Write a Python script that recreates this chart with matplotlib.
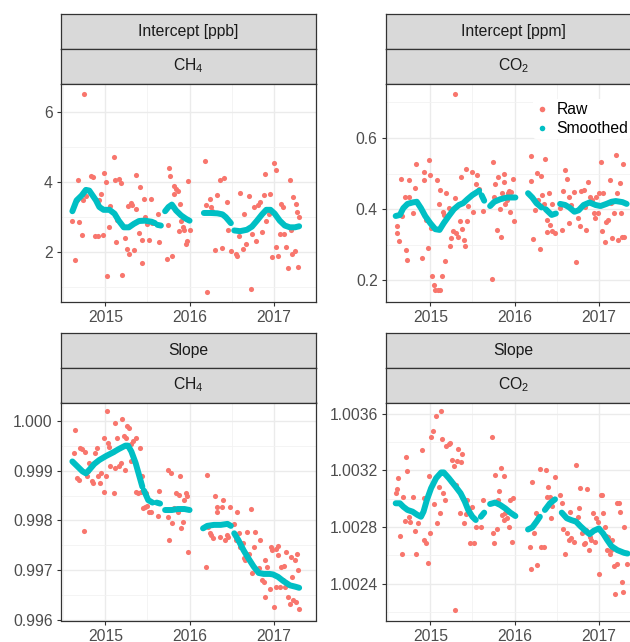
import numpy as np
import matplotlib
matplotlib.use("Agg")
import matplotlib.pyplot as plt
from matplotlib.lines import Line2D

plt.rcParams['font.family'] = ['Liberation Sans', 'DejaVu Sans']
plt.rcParams['mathtext.fontset'] = 'custom'
plt.rcParams['mathtext.rm'] = 'Liberation Sans'
plt.rcParams['mathtext.it'] = 'Liberation Sans:italic'
plt.rcParams['mathtext.default'] = 'regular'

nan = np.nan

# ---- Intercept CH4 [ppb] ----
ch4_int_x = [2014.61, 2014.64, 2014.66, 2014.68, 2014.69, 2014.72, 2014.74, 2014.75, 2014.77, 2014.83,
             2014.85, 2014.88, 2014.91, 2014.93, 2014.95, 2014.97, 2014.99, 2015.01, 2015.02, 2015.04,
             2015.06, 2015.10, 2015.12, 2015.13, 2015.14, 2015.16, 2015.19, 2015.20, 2015.23, 2015.26,
             2015.27, 2015.28, 2015.30, 2015.32, 2015.34, 2015.36, 2015.37, 2015.40, 2015.41, 2015.44,
             2015.44, 2015.46, 2015.47, 2015.50, 2015.52, 2015.54, 2015.56, 2015.62, 2015.64,
             2015.73, 2015.75, 2015.76, 2015.77, 2015.79, 2015.80, 2015.81, 2015.82, 2015.84, 2015.86,
             2015.87, 2015.89, 2015.90, 2015.92, 2015.94, 2015.96, 2015.97, 2015.98, 2016.00,
             2016.18, 2016.20, 2016.21, 2016.24, 2016.25, 2016.27, 2016.30, 2016.32, 2016.36, 2016.38,
             2016.41, 2016.45, 2016.46, 2016.49,
             2016.55, 2016.56, 2016.59, 2016.60, 2016.63, 2016.64, 2016.67, 2016.71, 2016.73, 2016.74,
             2016.77, 2016.79, 2016.81, 2016.84, 2016.86, 2016.88, 2016.90, 2016.91, 2016.94, 2016.96,
             2016.98, 2017.00, 2017.02, 2017.03, 2017.05, 2017.07, 2017.09, 2017.11, 2017.12, 2017.15,
             2017.17, 2017.19, 2017.20, 2017.22, 2017.23, 2017.25, 2017.26, 2017.28, 2017.29, 2017.30]
ch4_int_y = [2.90, 1.78, 3.48, 4.05, 2.86, 2.50, 3.50, 6.52, 3.60, 4.17,
             4.14, 2.47, 2.47, 3.48, 3.67, 2.48, 4.27, 4.00, 1.31, 2.71,
             3.32, 4.73, 4.05, 2.30, 2.93, 4.10, 3.98, 1.36, 2.41, 2.09,
             3.33, 1.95, 3.40, 3.36, 2.07, 3.24, 4.20, 2.56, 3.86, 1.69,
             2.35, 3.52, 3.00, 2.81, 2.35, 3.53, 2.83, 3.10, 2.29,
             1.80, 2.79, 4.41, 4.17, 1.90, 3.29, 3.67, 3.90, 3.81, 3.76,
             2.60, 3.38, 2.90, 2.71, 2.62, 2.24, 2.33, 4.03, 2.62,
             4.60, 3.36, 0.86, 3.52, 3.29, 3.17, 2.07, 3.62, 4.05, 2.12,
             4.12, 3.42, 2.62, 2.03,
             1.95, 1.88, 2.47, 3.70, 2.09, 3.10, 2.24, 3.60, 0.94, 2.52,
             3.29, 2.31, 3.36, 3.44, 2.57, 3.62, 4.22, 2.90, 3.10, 3.67,
             1.86, 4.54, 2.14, 4.35, 1.88, 2.52, 3.38, 3.30, 2.52, 2.14,
             1.55, 4.05, 2.62, 1.95, 3.57, 2.03, 3.38, 3.14, 1.59, 3.00]
ch4_int_sx = [2014.61, 2014.66, 2014.72, 2014.77, 2014.81, 2014.85, 2014.89, 2014.93, 2014.98, 2015.05,
              2015.11, 2015.16, 2015.22, 2015.28, 2015.34, 2015.40, 2015.47, 2015.55, 2015.59, nan,
              2015.62, 2015.66, nan,
              2015.71, 2015.75, 2015.79, 2015.84, 2015.90, 2015.96, 2016.00, nan,
              2016.17, 2016.25, 2016.33, 2016.39, 2016.43, 2016.49, nan,
              2016.53, 2016.60, 2016.68, 2016.74, 2016.80, 2016.86, 2016.91, 2016.96, 2017.01, 2017.07,
              2017.13, 2017.19, 2017.25, 2017.30]
ch4_int_sy = [3.17, 3.48, 3.62, 3.78, 3.76, 3.62, 3.48, 3.29, 3.21, 3.21,
              3.10, 2.90, 2.71, 2.71, 2.81, 2.89, 2.90, 2.87, 2.83, nan,
              2.78, 2.76, nan,
              3.17, 3.29, 3.36, 3.19, 3.05, 2.95, 2.90, nan,
              3.12, 3.12, 3.11, 3.08, 3.00, 2.83, nan,
              2.62, 2.60, 2.64, 2.73, 2.90, 3.08, 3.21, 3.21, 3.10, 2.90,
              2.76, 2.71, 2.71, 2.74]

# ---- Intercept CO2 [ppm] ----
co2_int_x = [2014.60, 2014.61, 2014.63, 2014.65, 2014.67, 2014.70, 2014.71, 2014.72, 2014.75, 2014.75,
             2014.79, 2014.82, 2014.83, 2014.90, 2014.93, 2014.93, 2014.95, 2014.97, 2014.98, 2015.00,
             2015.01, 2015.02, 2015.04, 2015.06, 2015.08, 2015.09, 2015.10, 2015.11, 2015.11, 2015.14,
             2015.15, 2015.16, 2015.18, 2015.19, 2015.22, 2015.24, 2015.25, 2015.27, 2015.29, 2015.29,
             2015.31, 2015.33, 2015.35, 2015.36, 2015.38, 2015.40, 2015.41, 2015.42, 2015.44, 2015.45,
             2015.50, 2015.51, 2015.54, 2015.56, 2015.58, 2015.62,
             2015.73, 2015.75, 2015.76, 2015.77, 2015.79, 2015.80, 2015.83, 2015.84, 2015.85, 2015.87,
             2015.87, 2015.89, 2015.91, 2015.92, 2015.93, 2015.95, 2015.96, 2015.98, 2015.99,
             2016.19, 2016.20, 2016.22, 2016.24, 2016.27, 2016.28, 2016.30, 2016.31, 2016.33, 2016.35,
             2016.36, 2016.38, 2016.39, 2016.41, 2016.42, 2016.44, 2016.45, 2016.48,
             2016.54, 2016.56, 2016.58, 2016.60, 2016.62, 2016.64, 2016.65, 2016.67, 2016.71, 2016.73,
             2016.75, 2016.78, 2016.79, 2016.82, 2016.83, 2016.85, 2016.87, 2016.89, 2016.92, 2016.94,
             2016.96, 2016.97, 2016.99, 2017.00, 2017.02, 2017.04, 2017.05, 2017.07, 2017.08, 2017.11,
             2017.13, 2017.15, 2017.16, 2017.18, 2017.20, 2017.22, 2017.23, 2017.25, 2017.26, 2017.28,
             2017.29, 2017.30]
co2_int_y = [0.333, 0.352, 0.311, 0.484, 0.380, 0.433, 0.285, 0.257, 0.482, 0.433,
             0.389, 0.459, 0.528, 0.264, 0.482, 0.505, 0.370, 0.291, 0.538, 0.495,
             0.347, 0.212, 0.186, 0.173, 0.482, 0.173, 0.415, 0.454, 0.173, 0.212,
             0.393, 0.384, 0.254, 0.447, 0.403, 0.298, 0.319, 0.340, 0.431, 0.724,
             0.333, 0.322, 0.366, 0.491, 0.344, 0.313, 0.296, 0.514, 0.368, 0.409,
             0.505, 0.393, 0.470, 0.496, 0.457, 0.395,
             0.205, 0.533, 0.433, 0.470, 0.342, 0.491, 0.400, 0.322, 0.445, 0.498,
             0.477, 0.415, 0.426, 0.447, 0.452, 0.393, 0.448, 0.484, 0.368,
             0.549, 0.479, 0.316, 0.397, 0.503, 0.426, 0.288, 0.493, 0.440, 0.415,
             0.542, 0.335, 0.370, 0.445, 0.356, 0.338, 0.415, 0.333,
             0.404, 0.342, 0.452, 0.510, 0.484, 0.361, 0.433, 0.413, 0.449, 0.251,
             0.375, 0.352, 0.452, 0.454, 0.407, 0.342, 0.477, 0.435, 0.426, 0.389,
             0.375, 0.435, 0.389, 0.445, 0.532, 0.338, 0.445, 0.309, 0.365, 0.370,
             0.482, 0.417, 0.319, 0.389, 0.552, 0.445, 0.314, 0.474, 0.389, 0.322,
             0.528, 0.322]
co2_int_sx = [2014.59, 2014.64, 2014.68, 2014.73, 2014.79, 2014.84, 2014.89, 2014.94, 2015.00, 2015.06,
              2015.11, 2015.16, 2015.22, 2015.28, 2015.34, 2015.39, 2015.44, 2015.50, 2015.56, 2015.58, nan,
              2015.61, 2015.64, nan,
              2015.71, 2015.76, 2015.83, 2015.91, 2015.97, 2016.01, nan,
              2016.16, 2016.21, 2016.26, 2016.32, nan,
              2016.37, 2016.44, 2016.49, nan,
              2016.54, 2016.60, 2016.65, 2016.71, 2016.76, 2016.82, 2016.89, 2016.96, 2017.02, 2017.09,
              2017.15, 2017.20, 2017.28, 2017.33]
co2_int_sy = [0.381, 0.384, 0.403, 0.415, 0.419, 0.421, 0.403, 0.381, 0.361, 0.344,
              0.342, 0.361, 0.381, 0.400, 0.412, 0.417, 0.428, 0.440, 0.449, 0.452, nan,
              0.439, 0.424, nan,
              0.409, 0.421, 0.428, 0.433, 0.433, 0.433, nan,
              0.445, 0.433, 0.417, 0.405, nan,
              0.400, 0.384, 0.388, nan,
              0.415, 0.412, 0.405, 0.393, 0.397, 0.412, 0.419, 0.412, 0.409, 0.415,
              0.421, 0.423, 0.420, 0.415]

# ---- Slope CH4 ----
ch4_slp_x = [2014.63, 2014.64, 2014.67, 2014.69, 2014.70, 2014.73, 2014.75, 2014.76, 2014.78, 2014.80,
             2014.81, 2014.84, 2014.85, 2014.88, 2014.90, 2014.91, 2014.94, 2014.95, 2014.98, 2014.99,
             2015.01, 2015.02, 2015.03, 2015.05, 2015.06, 2015.09, 2015.10, 2015.12, 2015.12, 2015.14,
             2015.16, 2015.19, 2015.20, 2015.22, 2015.23, 2015.25, 2015.26, 2015.28, 2015.30, 2015.31,
             2015.33, 2015.36, 2015.37, 2015.39, 2015.41, 2015.42, 2015.44, 2015.45, 2015.47, 2015.48,
             2015.50, 2015.52, 2015.54, 2015.62, 2015.64,
             2015.74, 2015.75, 2015.76, 2015.78, 2015.79, 2015.82, 2015.84, 2015.86, 2015.87, 2015.89,
             2015.90, 2015.92, 2015.93, 2015.96, 2015.97, 2015.98,
             2016.20, 2016.21, 2016.22, 2016.24, 2016.25, 2016.28, 2016.30, 2016.32, 2016.33, 2016.36,
             2016.38, 2016.40, 2016.42, 2016.44, 2016.46, 2016.48,
             2016.53, 2016.55, 2016.56, 2016.59, 2016.60, 2016.63, 2016.64, 2016.66, 2016.68, 2016.71,
             2016.73, 2016.74, 2016.77, 2016.78, 2016.81, 2016.82, 2016.84, 2016.86, 2016.88, 2016.89,
             2016.90, 2016.92, 2016.95, 2016.97, 2016.98, 2017.00, 2017.02, 2017.03, 2017.05, 2017.05,
             2017.07, 2017.09, 2017.11, 2017.12, 2017.13, 2017.15, 2017.17, 2017.19, 2017.20, 2017.22,
             2017.23, 2017.25, 2017.26, 2017.27, 2017.29, 2017.30]
ch4_slp_y = [0.99936, 0.99983, 0.99885, 0.99882, 0.99946, 0.99944, 0.99779, 0.99939, 0.99889, 0.99899,
             0.99916, 0.99880, 0.99876, 0.99936, 0.99946, 0.99889, 0.99876, 0.99895, 0.99966, 0.99858,
             0.99889, 1.00020, 0.99956, 0.99948, 0.99909, 0.99939, 0.99856, 0.99905, 0.99997, 0.99966,
             0.99909, 0.99916, 1.00005, 0.99970, 0.99902, 0.99966, 0.99990, 0.99986, 0.99919, 0.99955,
             0.99961, 0.99966, 0.99857, 0.99856, 0.99946, 0.99858, 0.99890, 0.99825, 0.99828, 0.99855,
             0.99830, 0.99818, 0.99816, 0.99809, 0.99859,
             0.99901, 0.99806, 0.99760, 0.99895, 0.99795, 0.99826, 0.99856, 0.99818, 0.99851, 0.99889,
             0.99784, 0.99797, 0.99841, 0.99856, 0.99849, 0.99736,
             0.99705, 0.99892, 0.99787, 0.99774, 0.99770, 0.99764, 0.99849, 0.99828, 0.99818, 0.99767,
             0.99828, 0.99841, 0.99760, 0.99770, 0.99767, 0.99828,
             0.99793, 0.99760, 0.99816, 0.99774, 0.99747, 0.99755, 0.99725, 0.99720, 0.99777, 0.99733,
             0.99824, 0.99693, 0.99747, 0.99777, 0.99701, 0.99703, 0.99761, 0.99679, 0.99676, 0.99720,
             0.99645, 0.99706, 0.99662, 0.99747, 0.99740, 0.99625, 0.99666, 0.99743, 0.99730, 0.99748,
             0.99666, 0.99706, 0.99679, 0.99709, 0.99666, 0.99736, 0.99645, 0.99632, 0.99726, 0.99686,
             0.99639, 0.99720, 0.99635, 0.99733, 0.99699, 0.99622]
ch4_slp_sx = [2014.61, 2014.67, 2014.73, 2014.77, 2014.81, 2014.87, 2014.93, 2015.01, 2015.09, 2015.16,
              2015.24, 2015.27, 2015.31, 2015.36, 2015.40, 2015.44, nan,
              2015.46, 2015.51, 2015.56, nan,
              2015.61, 2015.65, nan,
              2015.71, 2015.79, 2015.86, 2015.94, 2016.00, nan,
              2016.16, 2016.21, 2016.29, 2016.37, 2016.45, 2016.49, nan,
              2016.53, 2016.58, 2016.64, 2016.70, 2016.76, 2016.82, 2016.88, 2016.95, 2016.99, 2017.05,
              2017.11, 2017.19, 2017.26, 2017.30]
ch4_slp_sy = [0.99919, 0.99909, 0.99899, 0.99895, 0.99902, 0.99914, 0.99922, 0.99930, 0.99937, 0.99944,
              0.99951, 0.99951, 0.99939, 0.99916, 0.99892, 0.99868, nan,
              0.99860, 0.99841, 0.99836, nan,
              0.99836, 0.99834, nan,
              0.99821, 0.99821, 0.99823, 0.99823, 0.99821, nan,
              0.99784, 0.99789, 0.99791, 0.99791, 0.99793, 0.99789, nan,
              0.99774, 0.99760, 0.99740, 0.99723, 0.99707, 0.99694, 0.99692, 0.99692, 0.99691, 0.99686,
              0.99678, 0.99669, 0.99666, 0.99664]

# ---- Slope CO2 ----
co2_slp_x = [2014.59, 2014.60, 2014.62, 2014.64, 2014.67, 2014.68, 2014.70, 2014.71, 2014.72, 2014.75,
             2014.76, 2014.79, 2014.82, 2014.83, 2014.86, 2014.90, 2014.92, 2014.93, 2014.95, 2014.97,
             2014.98, 2015.00, 2015.01, 2015.03, 2015.05, 2015.07, 2015.08, 2015.10, 2015.11, 2015.13,
             2015.14, 2015.15, 2015.18, 2015.19, 2015.22, 2015.24, 2015.25, 2015.26, 2015.28, 2015.29,
             2015.30, 2015.32, 2015.33, 2015.35, 2015.36, 2015.38, 2015.40, 2015.42, 2015.44, 2015.46,
             2015.47, 2015.50, 2015.52, 2015.54, 2015.60, 2015.62,
             2015.73, 2015.74, 2015.76, 2015.77, 2015.79, 2015.80, 2015.82, 2015.84, 2015.85, 2015.87,
             2015.88, 2015.89, 2015.91, 2015.93, 2015.95, 2015.97, 2015.98,
             2016.18, 2016.20, 2016.21, 2016.23, 2016.25, 2016.27, 2016.28, 2016.30, 2016.31, 2016.35,
             2016.37, 2016.38, 2016.40, 2016.42, 2016.43, 2016.45, 2016.48,
             2016.54, 2016.56, 2016.57, 2016.60, 2016.62, 2016.64, 2016.66, 2016.67, 2016.70, 2016.71,
             2016.73, 2016.75, 2016.77, 2016.78, 2016.80, 2016.82, 2016.83, 2016.85, 2016.86, 2016.88,
             2016.89, 2016.91, 2016.93, 2016.96, 2016.97, 2016.99, 2017.00, 2017.02, 2017.04, 2017.05,
             2017.07, 2017.08, 2017.10, 2017.11, 2017.13, 2017.15, 2017.16, 2017.18, 2017.19, 2017.21,
             2017.22, 2017.24, 2017.25, 2017.27, 2017.29, 2017.30, 2017.33]
co2_slp_y = [1.003044, 1.003067, 1.003146, 1.002736, 1.002613, 1.003011, 1.002845, 1.003295, 1.003193, 1.002869,
             1.002838, 1.003015, 1.002774, 1.002613, 1.002826, 1.003347, 1.003004, 1.002708, 1.002684, 1.002547,
             1.003162, 1.002755, 1.003437, 1.003477, 1.002963, 1.003588, 1.002831, 1.003086, 1.002902, 1.003619,
             1.003422, 1.003039, 1.002992, 1.003375, 1.003389, 1.003394, 1.003122, 1.003271, 1.003233, 1.002211,
             1.003098, 1.003264, 1.003351, 1.002897, 1.003257, 1.003318, 1.002826, 1.002892, 1.002992, 1.002925,
             1.002684, 1.002944, 1.002684, 1.002798, 1.002802, 1.002992,
             1.003437, 1.002755, 1.002689, 1.003169, 1.002783, 1.002992, 1.003058, 1.003217, 1.002885, 1.002850,
             1.003162, 1.002897, 1.002862, 1.002802, 1.002992, 1.002696, 1.003004,
             1.002660, 1.002506, 1.003115, 1.002755, 1.002897, 1.002530, 1.002873, 1.003209, 1.002660, 1.002660,
             1.003205, 1.003015, 1.003082, 1.003015, 1.002862, 1.002949, 1.003153,
             1.003027, 1.002973, 1.002783, 1.002613, 1.002755, 1.002708, 1.002909, 1.002720, 1.002850, 1.002696,
             1.003240, 1.002873, 1.002932, 1.003074, 1.002755, 1.002679, 1.002684, 1.002779, 1.003067, 1.002637,
             1.002731, 1.002708, 1.002902, 1.002696, 1.002862, 1.002838, 1.002466, 1.003027, 1.003027, 1.002902,
             1.002802, 1.002736, 1.002641, 1.002731, 1.002613, 1.002637, 1.002708, 1.002523, 1.002329, 1.002973,
             1.002542, 1.002973, 1.002909, 1.002412, 1.002341, 1.002802, 1.002542]
co2_slp_sx = [2014.59, 2014.64, 2014.68, 2014.73, 2014.79, 2014.85, 2014.89, 2014.92, 2014.96, 2015.01,
              2015.07, 2015.13, 2015.16, 2015.22, 2015.30, 2015.36, 2015.41, 2015.45, 2015.50, 2015.54, nan,
              2015.60, 2015.64, nan,
              2015.71, 2015.77, 2015.83, 2015.89, 2015.95, 2016.01, nan,
              2016.16, 2016.21, 2016.26, 2016.30, nan,
              2016.36, 2016.42, 2016.48, nan,
              2016.56, 2016.62, 2016.67, 2016.73, 2016.78, 2016.84, 2016.89, 2016.94, 2017.00, 2017.05,
              2017.10, 2017.15, 2017.22, 2017.30, 2017.34]
co2_slp_sy = [1.002968, 1.002968, 1.002944, 1.002921, 1.002909, 1.002885, 1.002873, 1.002909, 1.002992, 1.003075,
              1.003146, 1.003186, 1.003186, 1.003146, 1.003086, 1.003039, 1.002980, 1.002921, 1.002873, 1.002850, nan,
              1.002873, 1.002902, nan,
              1.002963, 1.002973, 1.002956, 1.002932, 1.002902, 1.002878, nan,
              1.002783, 1.002798, 1.002838, 1.002873, nan,
              1.002921, 1.002968, 1.002996, nan,
              1.002902, 1.002862, 1.002850, 1.002838, 1.002807, 1.002774, 1.002750, 1.002774, 1.002790, 1.002755,
              1.002708, 1.002665, 1.002637, 1.002618, 1.002613]

year_ticks = [2015, 2016, 2017]
year_minor = [2014.5, 2015.5, 2016.5, 2017.5]
x_limits = (2014.475, 2017.455)

RAW_COL = '#F8766D'
SMOOTH_COL = '#00BFC4'
BORDER = '#333333'
FS = 11.3

fig = plt.figure(figsize=(6.30, 6.42), dpi=100)
W, H = 630.0, 642.0


def px_box(x0, y0, x1, y1):
    # pixel box (top-left origin) -> figure fraction rect
    return [x0 / W, 1 - y1 / H, (x1 - x0) / W, (y1 - y0) / H]


def add_strip(x0, y0, x1, y1, label):
    s = fig.add_axes(px_box(x0, y0, x1, y1))
    s.set_facecolor('#D9D9D9')
    s.set_xticks([])
    s.set_yticks([])
    for sp in s.spines.values():
        sp.set_color(BORDER)
        sp.set_linewidth(0.9)
    s.text(0.5, 0.5, label, transform=s.transAxes,
           ha='center', va='center', fontsize=FS, color='#1A1A1A')
    return s


def draw_panel(x0, y0, title, gas, rx, ry, sx, sy, ylim, yticks, yminor, fmt):
    add_strip(x0, y0, x0 + 255, y0 + 34.5, title)
    add_strip(x0, y0 + 34.5, x0 + 255, y0 + 69.5, gas)
    ax = fig.add_axes(px_box(x0, y0 + 69.5, x0 + 255, y0 + 287.5))
    ax.set_facecolor('white')
    ax.set_xlim(*x_limits)
    ax.set_ylim(*ylim)
    ax.set_xticks(year_ticks)
    ax.set_xticklabels([str(t) for t in year_ticks])
    ax.set_xticks(year_minor, minor=True)
    ax.set_yticks(yticks)
    ax.set_yticklabels([fmt.format(t) for t in yticks])
    ax.set_yticks(yminor, minor=True)
    ax.grid(which='major', color='#EBEBEB', linewidth=1.0)
    ax.grid(which='minor', color='#F2F2F2', linewidth=0.6)
    ax.set_axisbelow(True)
    ax.tick_params(which='major', length=3, width=0.8, color=BORDER,
                   labelcolor='#4D4D4D', labelsize=FS)
    ax.tick_params(axis='x', which='major', pad=3)
    ax.tick_params(axis='y', which='major', pad=3)
    ax.tick_params(which='minor', length=0)
    for sp in ax.spines.values():
        sp.set_color(BORDER)
        sp.set_linewidth(0.9)
    ax.plot(rx, ry, 'o', color=RAW_COL, markersize=3.7, markeredgewidth=0, zorder=3)
    ax.plot(sx, sy, '-', color=SMOOTH_COL, linewidth=4.3, solid_capstyle='round', zorder=4)
    return ax


draw_panel(61, 14, 'Intercept [ppb]', 'CH$_4$', ch4_int_x, ch4_int_y, ch4_int_sx, ch4_int_sy,
           (0.59, 6.82), [2, 4, 6], [1, 3, 5], '{:.0f}')
draw_panel(386, 14, 'Intercept [ppm]', 'CO$_2$', co2_int_x, co2_int_y, co2_int_sx, co2_int_sy,
           (0.141, 0.753), [0.2, 0.4, 0.6], [0.3, 0.5, 0.7], '{:.1f}')
draw_panel(61, 333, 'Slope', 'CH$_4$', ch4_slp_x, ch4_slp_y, ch4_slp_sx, ch4_slp_sy,
           (0.99598, 1.00038), [0.996, 0.997, 0.998, 0.999, 1.000],
           [0.9965, 0.9975, 0.9985, 0.9995], '{:.3f}')
draw_panel(386, 333, 'Slope', 'CO$_2$', co2_slp_x, co2_slp_y, co2_slp_sx, co2_slp_sy,
           (1.00214, 1.00368), [1.0024, 1.0028, 1.0032, 1.0036],
           [1.0022, 1.0026, 1.0030, 1.0034], '{:.4f}')

handles = [Line2D([], [], linestyle='none', marker='o', color=RAW_COL, markersize=4, markeredgewidth=0),
           Line2D([], [], linestyle='none', marker='o', color=SMOOTH_COL, markersize=4, markeredgewidth=0)]
leg = fig.legend(handles, ['Raw', 'Smoothed'], loc='upper left',
                 bbox_to_anchor=(533 / W, 1 - 99 / H), frameon=True, fontsize=FS,
                 handlelength=0.8, handletextpad=0.5, labelspacing=0.25,
                 borderpad=0.2, borderaxespad=0)
leg.get_frame().set_facecolor('white')
leg.get_frame().set_edgecolor('none')
leg.get_frame().set_alpha(1)

fig.savefig('out.png', dpi=100)
